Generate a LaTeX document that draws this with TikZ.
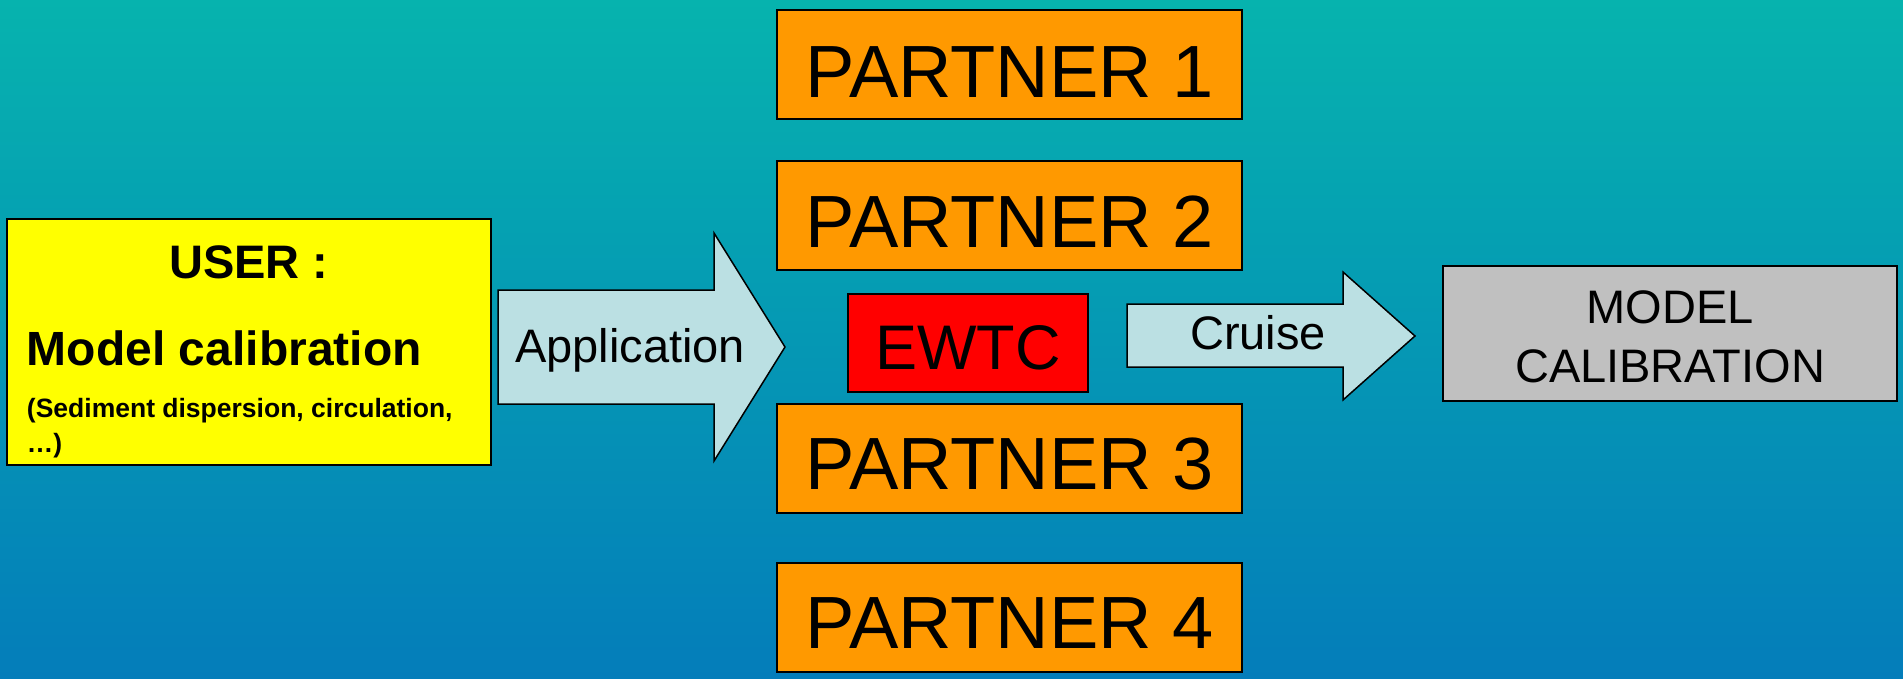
\documentclass[tikz,border=0pt]{standalone}
\usepackage{fontspec}
\setmainfont{Liberation Sans}
\definecolor{bgtop}{HTML}{06B3AE}
\definecolor{bgbot}{HTML}{047DBA}
\definecolor{userfill}{HTML}{FFFF00}
\definecolor{partnerfill}{HTML}{FF9900}
\definecolor{ewtcfill}{HTML}{FF0000}
\definecolor{greyfill}{HTML}{C0C0C0}
\definecolor{arrowfill}{HTML}{BBE0E3}
\tikzset{
  boxnode/.style={draw=black, line width=1.5pt, inner sep=0pt, outer sep=0pt},
  txt/.style={anchor=base, inner sep=0pt, outer sep=0pt, text=black},
  txtleft/.style={anchor=base west, inner sep=0pt, outer sep=0pt, text=black},
  partnerbox/.style={boxnode, fill=partnerfill, minimum width=465pt, minimum height=109pt},
  partnertxt/.style={txt, font=\fontsize{74}{80}\selectfont},
  midtxt/.style={txt, font=\fontsize{47}{56}\selectfont},
  blockarrow/.style={draw=black, line width=1.5pt, fill=arrowfill, line join=miter},
}
\begin{document}
\begin{tikzpicture}[x=1pt, y=-1pt]
\useasboundingbox (0,0) rectangle (1903,678);
\shade[top color=bgtop, bottom color=bgbot] (0,0) rectangle (1903,678);

% USER box
\node[boxnode, fill=userfill, minimum width=484pt, minimum height=246pt] (user) at (249,342) {};
\node[txt, font=\bfseries\fontsize{47}{54}\selectfont] (usertitle) at (249,278) {USER :};
\node[txtleft, font=\bfseries\fontsize{48}{54}\selectfont] (usermodel) at (27,365) {Model calibration};
\node[txtleft, font=\bfseries\fontsize{26.5}{30}\selectfont] (usersed) at (27,417) {(Sediment dispersion, circulation,};
\node[txtleft, font=\bfseries\fontsize{26.5}{30}\selectfont] (userdots) at (27,452) {…)};

% Application arrow
\draw[blockarrow] (498,290) -- (714,290) -- (714,233) -- (785,347) -- (714,461) -- (714,404) -- (498,404) -- cycle;
\node[midtxt] (apptxt) at (630,362) {Application};

% Partners
\node[partnerbox] (p1) at (1009.5,64.5) {};
\node[partnertxt] (p1t) at (1009.5,97) {PARTNER 1};
\node[partnerbox] (p2) at (1009.5,215.5) {};
\node[partnertxt] (p2t) at (1009.5,247) {PARTNER 2};
\node[partnerbox] (p3) at (1009.5,458.5) {};
\node[partnertxt] (p3t) at (1009.5,489) {PARTNER 3};
\node[partnerbox] (p4) at (1009.5,617.5) {};
\node[partnertxt] (p4t) at (1009.5,648) {PARTNER 4};

% EWTC
\node[boxnode, fill=ewtcfill, minimum width=240pt, minimum height=98pt] (ewtc) at (968,343) {};
\node[txt, font=\fontsize{63}{70}\selectfont] (ewtct) at (968,369) {EWTC};

% Cruise arrow
\draw[blockarrow] (1127,304) -- (1343,304) -- (1343,272) -- (1415,336) -- (1343,400) -- (1343,367) -- (1127,367) -- cycle;
\node[midtxt] (cruiset) at (1258,349) {Cruise};

% Model calibration box
\node[boxnode, fill=greyfill, minimum width=454pt, minimum height=135pt] (mcal) at (1670,333.5) {};
\node[midtxt] (mcal1) at (1670,323) {MODEL};
\node[midtxt] (mcal2) at (1670,382) {CALIBRATION};
\end{tikzpicture}
\end{document}
